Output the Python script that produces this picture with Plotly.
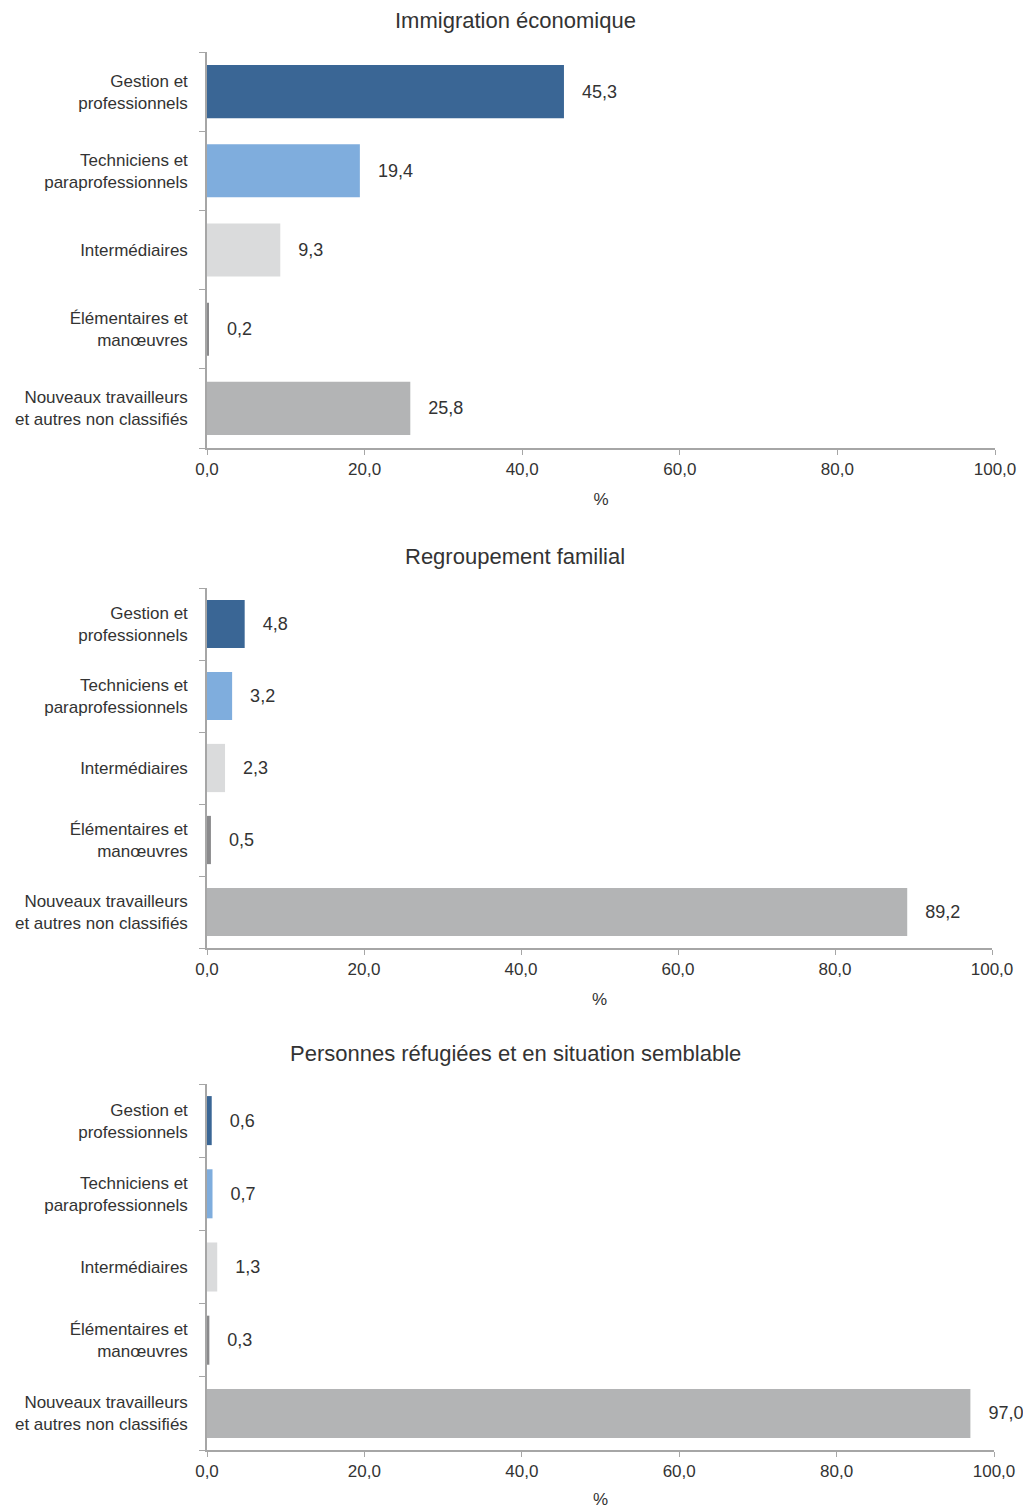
import plotly.graph_objects as go

categories = [
    "Gestion et<br>professionnels",
    "Techniciens et<br>paraprofessionnels",
    "Intermédiaires",
    "Élémentaires et<br>manœuvres",
    "Nouveaux travailleurs<br>et autres non classifiés",
]
titres = [
    "Immigration économique",
    "Regroupement familial",
    "Personnes réfugiées et en situation semblable",
]
immigration_economique = [45.3, 19.4, 9.3, 0.2, 25.8]
regroupement_familial = [4.8, 3.2, 2.3, 0.5, 89.2]
refugies = [0.6, 0.7, 1.3, 0.3, 97.0]
couleurs = ["#3A6695", "#7FADDD", "#DADBDC", "#8A8A8C", "#B3B4B5"]
ticks_x = [0, 20, 40, 60, 80, 100]

series = [immigration_economique, regroupement_familial, refugies]

W = 1023
H = 1509
# (haut, bas, droite) en pixels pour chaque panneau
panneaux = [(52, 448, 995), (588, 948, 992), (1084, 1450, 994)]

police = "Liberation Sans Narrow, Arial Narrow, Liberation Sans, sans-serif"
gris_texte = "#333333"
gris_axe = "#A6A6A6"

fig = go.Figure()

for i, (valeurs, (haut, bas, droite)) in enumerate(zip(series, panneaux)):
    n = "" if i == 0 else str(i + 1)
    fig.add_trace(go.Bar(
        x=valeurs,
        y=categories,
        orientation="h",
        marker=dict(color=couleurs, line=dict(width=0)),
        texttemplate="\u00a0\u00a0\u00a0%{x:.1f}",
        textposition="outside",
        cliponaxis=False,
        textfont=dict(family=police, size=18, color=gris_texte),
        xaxis="x" + n,
        yaxis="y" + n,
        showlegend=False,
        hoverinfo="skip",
    ))
    fig.update_layout({
        "xaxis" + n: dict(
            domain=[207 / W, droite / W],
            anchor="y" + n,
            range=[0, 100],
            tickvals=ticks_x,
            tickformat=".1f",
            showgrid=False,
            zeroline=False,
            showline=True,
            linecolor=gris_axe,
            linewidth=1.5,
            ticks="outside",
            ticklen=5,
            tickcolor=gris_axe,
            automargin=False,
            tickfont=dict(family=police, size=17, color=gris_texte),
            title=dict(text="%", font=dict(family=police, size=17, color=gris_texte), standoff=15),
        ),
        "yaxis" + n: dict(
            domain=[1 - bas / H, 1 - haut / H],
            anchor="x" + n,
            categoryorder="array",
            categoryarray=categories[::-1],
            showgrid=False,
            zeroline=False,
            showline=True,
            linecolor=gris_axe,
            linewidth=1.5,
            ticks="outside",
            tickson="boundaries",
            ticklen=6,
            tickcolor=gris_axe,
            ticklabelstandoff=14,
            automargin=False,
            tickfont=dict(family=police, size=17, color=gris_texte),
        ),
    })
    fig.add_annotation(
        text=titres[i],
        x=515 / W, y=1 - (haut - 31) / H,
        xref="paper", yref="paper",
        xanchor="center", yanchor="middle",
        showarrow=False,
        font=dict(family=police, size=22, color=gris_texte),
    )

fig.update_layout(
    width=W,
    height=H,
    margin=dict(l=0, r=0, t=0, b=0, autoexpand=False),
    bargap=0.33,
    separators=", ",
    plot_bgcolor="white",
    paper_bgcolor="white",
    template="plotly_white",
)

# pas de marge autour de la figure dans la page
fig.write_html(
    "out.html",
    config={"displayModeBar": False},
    post_script="document.body.style.margin='0';",
)
